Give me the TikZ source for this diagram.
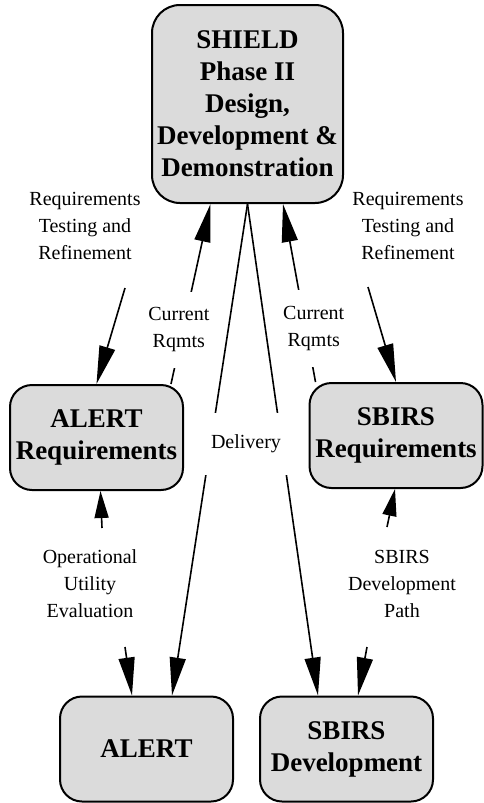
\documentclass[tikz,border=0pt]{standalone}
\usepackage{fontspec}
\setmainfont{Liberation Serif}
\usetikzlibrary{positioning}
\usetikzlibrary{shapes,arrows.meta}

\tikzset{
  phasebox/.style={rectangle,draw,line width=2pt,rounded corners=22pt,fill=black!14,
    align=center,inner sep=0pt,minimum width=173pt,minimum height=105pt,
    font=\fontsize{27}{32}\selectfont\bfseries},
  lbl/.style={align=center,inner sep=1pt,font=\fontsize{20}{27}\selectfont},
  flow/.style={-{Triangle[length=38pt,width=16pt]},line width=1.6pt},
  shortflow/.style={-{Triangle[length=27pt,width=14pt]},line width=1.6pt}
}

\begin{document}
\begin{tikzpicture}[x=1pt,y=-1pt]
    \useasboundingbox (0,0) rectangle (484,803);
    % boxes
    \node[phasebox,minimum width=191pt,minimum height=198pt,rounded corners=28pt] (shield) at (247.5,104)
        {SHIELD\\Phase II\\Design,\\Development \&\\Demonstration};
    \node[phasebox] (alertreq) at (96.5,437.5) {ALERT\\Requirements};
    \node[phasebox] (sbirsreq) at (396,435.5) {SBIRS\\Requirements};
    \node[phasebox] (alert) at (146.5,749) {ALERT};
    \node[phasebox] (sbirsdev) at (346.5,749) {SBIRS\\Development};
    % labels
    \node[lbl] (rtrl) at (85,226) {Requirements\\Testing and\\Refinement};
    \node[lbl] (rtrr) at (408,226) {Requirements\\Testing and\\Refinement};
    \node[lbl] (opeval) at (90,584) {Operational\\Utility\\Evaluation};
    \node[lbl] (devpath) at (402,584) {SBIRS\\Development\\Path};
    % free ends
    \coordinate (rtrlend) at (125,288);
    \coordinate (rtrrend) at (368,287);
    \coordinate (oeup) at (102,528);
    \coordinate (oedown) at (125,647);
    \coordinate (dpup) at (387,527);
    \coordinate (dpdown) at (367,647);
    %Requirements down to the requirement boxes
    \draw[flow] (rtrlend) -- (alertreq.north);
    \draw[flow] (rtrrend) -- (sbirsreq.north);
    %Current requirements back up
    \draw[flow] ([xshift=-13pt]alertreq.north east) --
        node[lbl,fill=white,pos=0.3,xshift=-4pt,inner ysep=16pt] (currl) {Current\\Rqmts}
        ([xshift=-37pt]shield.south);
    \draw[flow] ([xshift=7pt]sbirsreq.north west) --
        node[lbl,fill=white,pos=0.3,xshift=8pt,inner ysep=16pt] (currr) {Current\\Rqmts}
        ([xshift=35.5pt]shield.south);
    %Delivery
    \draw[flow] (shield.south) -- ([xshift=25.5pt]alert.north);
    \draw[flow] (shield.south) -- ([xshift=-28.5pt]sbirsdev.north);
    \node[lbl,fill=white,minimum width=84pt,minimum height=62pt] (deliv) at (246,444) {Delivery};
    %Evaluation and development paths
    \draw[shortflow] (oeup) -- ([xshift=4pt]alertreq.south);
    \draw[flow] (oedown) -- ([xshift=-14.5pt]alert.north);
    \draw[shortflow] (dpup) -- ([xshift=-1pt]sbirsreq.south);
    \draw[flow] (dpdown) -- ([xshift=11.5pt]sbirsdev.north);
\end{tikzpicture}
\end{document}
